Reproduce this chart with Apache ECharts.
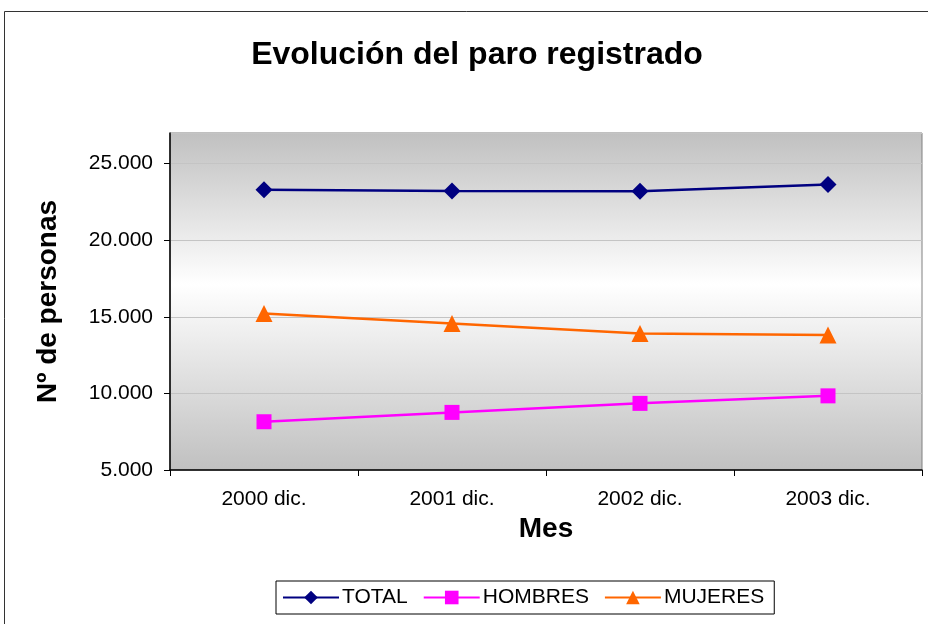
<!DOCTYPE html>
<html>
<head>
<meta charset="utf-8">
<script src="https://cdn.jsdelivr.net/npm/echarts@6/dist/echarts.min.js"></script>
<style>
  html, body { margin: 0; padding: 0; background: #fff; }
  #chart { width: 928px; height: 624px; }
</style>
</head>
<body>
<div id="chart"></div>
<script>
// datos
const meses = ['2000 dic.', '2001 dic.', '2002 dic.', '2003 dic.']
const total = [23300, 23220, 23190, 23640]
const hombres = [8150, 8760, 9350, 9840]
const mujeres = [15220, 14560, 13910, 13810]

const fuente = 'Arial, "Liberation Sans", sans-serif'

const myChart = echarts.init(document.getElementById('chart'))

const option = {
  animation: false,
  textStyle: { fontFamily: fuente },
  title: {
    text: 'Evolución del paro registrado',
    left: 472,
    top: 34,
    textAlign: 'center',
    textStyle: { fontFamily: fuente, fontSize: 32, fontWeight: 'bold', color: '#000' }
  },
  graphic: [
    {
      type: 'rect',
      shape: { x: 4.5, y: 11.5, width: 940, height: 640 },
      style: { fill: 'none', stroke: '#333', lineWidth: 1 },
      silent: true
    }
  ],
  legend: {
    left: 276,
    top: 581,
    itemWidth: 56,
    itemHeight: 17,
    itemGap: 15,
    padding: [6, 10, 6, 6],
    borderColor: '#000',
    borderWidth: 1,
    textStyle: { fontFamily: fuente, fontSize: 21, color: '#000', padding: [0, 0, 0, -2] },
    data: ['TOTAL', 'HOMBRES', 'MUJERES']
  },
  grid: {
    left: 170,
    top: 133,
    right: 6,
    bottom: 154,
    show: true,
    borderColor: '#808080',
    borderWidth: 1,
    backgroundColor: new echarts.graphic.LinearGradient(0, 0, 0, 1, [
      { offset: 0, color: '#c0c0c0' },
      { offset: 0.45, color: '#ffffff' },
      { offset: 1, color: '#c0c0c0' }
    ])
  },
  xAxis: {
    type: 'category',
    data: meses,
    boundaryGap: true,
    name: 'Mes',
    nameLocation: 'middle',
    nameGap: 44,
    nameTextStyle: { fontFamily: fuente, fontSize: 28, fontWeight: 'bold', color: '#000' },
    axisLine: { lineStyle: { color: '#000', width: 1.5 } },
    axisTick: { show: true, alignWithLabel: false, length: 6, lineStyle: { color: '#000' } },
    axisLabel: { fontFamily: fuente, fontSize: 21, color: '#000', margin: 19 }
  },
  yAxis: {
    type: 'value',
    min: 5000,
    max: 27000,
    interval: 5000,
    name: 'Nº de personas',
    nameLocation: 'middle',
    nameGap: 108,
    nameRotate: 90,
    nameTextStyle: { fontFamily: fuente, fontSize: 28, fontWeight: 'bold', color: '#000' },
    axisLine: { show: true, lineStyle: { color: '#000', width: 1.5 } },
    axisTick: { show: true, length: 6, lineStyle: { color: '#000' } },
    axisLabel: {
      fontFamily: fuente,
      fontSize: 21,
      color: '#000',
      margin: 17,
      showMaxLabel: false,
      formatter: v => (v % 5000 === 0 ? v.toLocaleString('de-DE') : '')
    },
    splitLine: { show: true, lineStyle: { color: '#c4c4c4', width: 1 } }
  },
  series: [
    {
      name: 'TOTAL',
      type: 'line',
      data: total,
      symbol: 'diamond',
      symbolSize: 17,
      color: '#000080',
      lineStyle: { width: 2.5, color: '#000080' }
    },
    {
      name: 'HOMBRES',
      type: 'line',
      data: hombres,
      symbol: 'rect',
      symbolSize: 15,
      color: '#ff00ff',
      lineStyle: { width: 2.5, color: '#ff00ff' }
    },
    {
      name: 'MUJERES',
      type: 'line',
      data: mujeres,
      symbol: 'triangle',
      symbolSize: 17,
      color: '#ff6600',
      lineStyle: { width: 2.5, color: '#ff6600' }
    }
  ]
}

myChart.setOption(option)
</script>
</body>
</html>
